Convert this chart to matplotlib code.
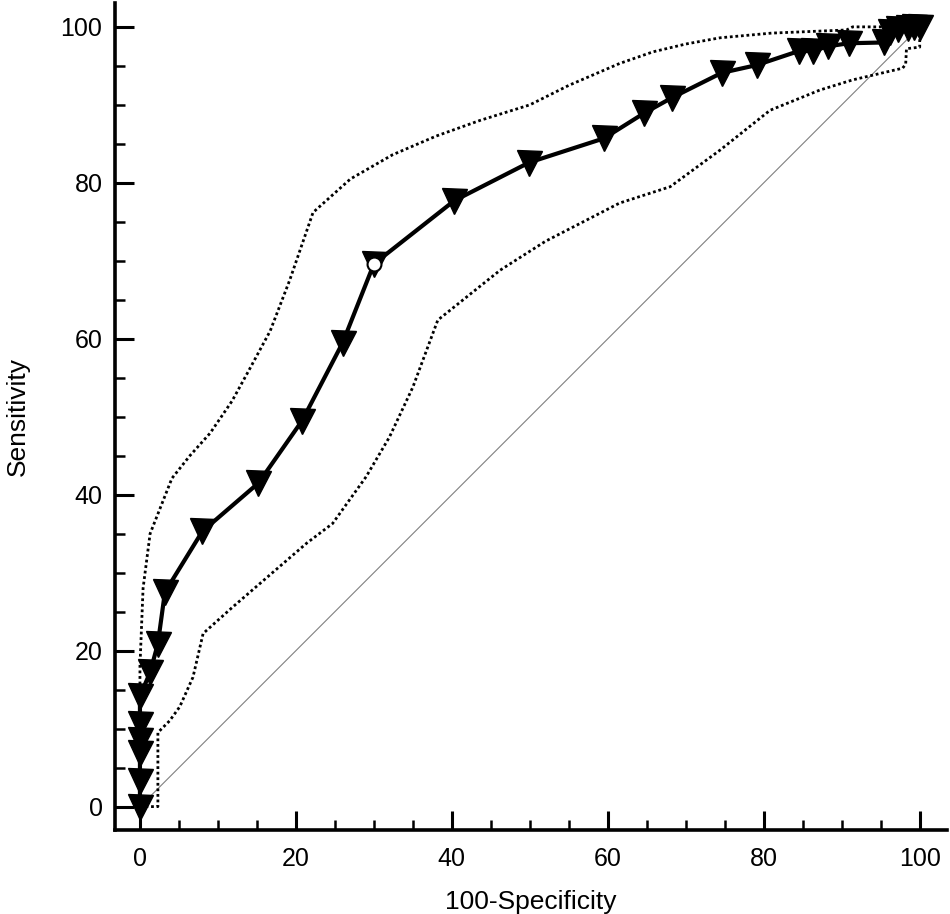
import numpy as np
import matplotlib
matplotlib.use("Agg")
import matplotlib.pyplot as plt

plt.rcParams['font.family'] = ['Liberation Sans', 'DejaVu Sans']

# ROC points (100-Specificity, Sensitivity)
roc_fpr = [0, 0, 0, 0, 0, 0, 1.3, 2.3, 3.2, 8.0, 15.2, 20.8, 26.0, 30.0, 40.3,
           49.9, 59.5, 64.6, 68.2, 74.6, 79.1, 84.5, 86.3, 88.2, 90.9, 95.4,
           96.2, 97.2, 98.5, 99.3, 100]
roc_tpr = [0, 3.3, 6.9, 8.5, 10.6, 14.2, 17.2, 20.9, 27.5, 35.3, 41.5, 49.5,
           59.5, 69.6, 77.7, 82.6, 85.7, 88.9, 90.9, 94.1, 95.1, 96.9, 96.9,
           97.5, 97.9, 98.0, 99.4, 99.7, 99.8, 100, 100]

# criterion point (open circle)
crit_fpr = [30.0]
crit_tpr = [69.6]

# confidence bounds
upper_x = [0, 0, 0.4, 1.3, 4.1, 6.4, 9.0, 11.8, 14.0, 16.7, 19.2, 22.2, 27.0,
           32.4, 38.0, 43.6, 50.0, 55.0, 61.5, 65.8, 70.0, 74.4, 81.0, 90.6,
           91.4, 100]
upper_y = [0, 18.0, 28.0, 35.0, 42.1, 45.0, 47.9, 52.0, 56.0, 61.0, 67.5, 76.2,
           80.5, 83.6, 86.0, 88.0, 90.0, 92.5, 95.3, 96.8, 97.8, 98.6, 99.2,
           99.6, 100, 100]

lower_x = [0, 2.3, 2.3, 3.8, 5.1, 6.8, 8.1, 11.9, 16.3, 21.4, 24.7, 29.0, 32.0,
           35.0, 38.2, 46.2, 52.0, 61.5, 68.0, 74.4, 80.8, 87.2, 91.4, 97.8,
           98.2, 98.3, 100, 100]
lower_y = [0, 0, 9.5, 11.0, 12.8, 16.6, 22.2, 25.6, 29.4, 33.8, 36.3, 42.3, 47.4,
           53.8, 62.4, 68.8, 72.5, 77.4, 79.5, 84.2, 89.3, 91.9, 93.2, 94.7,
           95.2, 97.2, 97.4, 100]

diag = [0, 100]

fig = plt.figure(figsize=(9.5, 9.14), dpi=100)
ax = fig.add_axes([115 / 950, 1 - 830 / 914, 832 / 950, 827.3 / 914])

ax.plot(diag, diag, color='#808080', lw=0.8, zorder=1)
ax.plot(upper_x, upper_y, color='black', lw=2.0, ls=(0, (1, 1.0)), zorder=2)
ax.plot(lower_x, lower_y, color='black', lw=2.0, ls=(0, (1, 1.0)), zorder=2)
ax.plot(roc_fpr, roc_tpr, color='black', lw=3, marker='v', ms=18, mew=1,
        mfc='black', mec='black', zorder=3, clip_on=False)
ax.plot(crit_fpr, crit_tpr, ls='none', marker='o', ms=10, mfc='white',
        mec='black', mew=1.5, zorder=4, clip_on=False)

ax.set_xlim(-3.2, 103.5)
ax.set_ylim(-3.0, 103.1)

ax.spines['top'].set_visible(False)
ax.spines['right'].set_visible(False)
for s in ['left', 'bottom']:
    ax.spines[s].set_linewidth(2.6)

ax.set_xticks(np.arange(0, 101, 20))
ax.set_yticks(np.arange(0, 101, 20))
ax.set_xticks(np.arange(0, 101, 5), minor=True)
ax.set_yticks(np.arange(0, 101, 5), minor=True)
ax.tick_params(which='major', direction='in', length=14, width=2.2,
               labelsize=18)
ax.tick_params(which='minor', direction='in', length=7.5, width=1.8)
ax.tick_params(axis='x', which='major', pad=12)
ax.tick_params(axis='y', which='major', pad=9)

ax.set_xlabel('100-Specificity', fontsize=19, labelpad=14)
ax.set_ylabel('Sensitivity', fontsize=19, labelpad=22)

fig.savefig('out.png', dpi=100)
